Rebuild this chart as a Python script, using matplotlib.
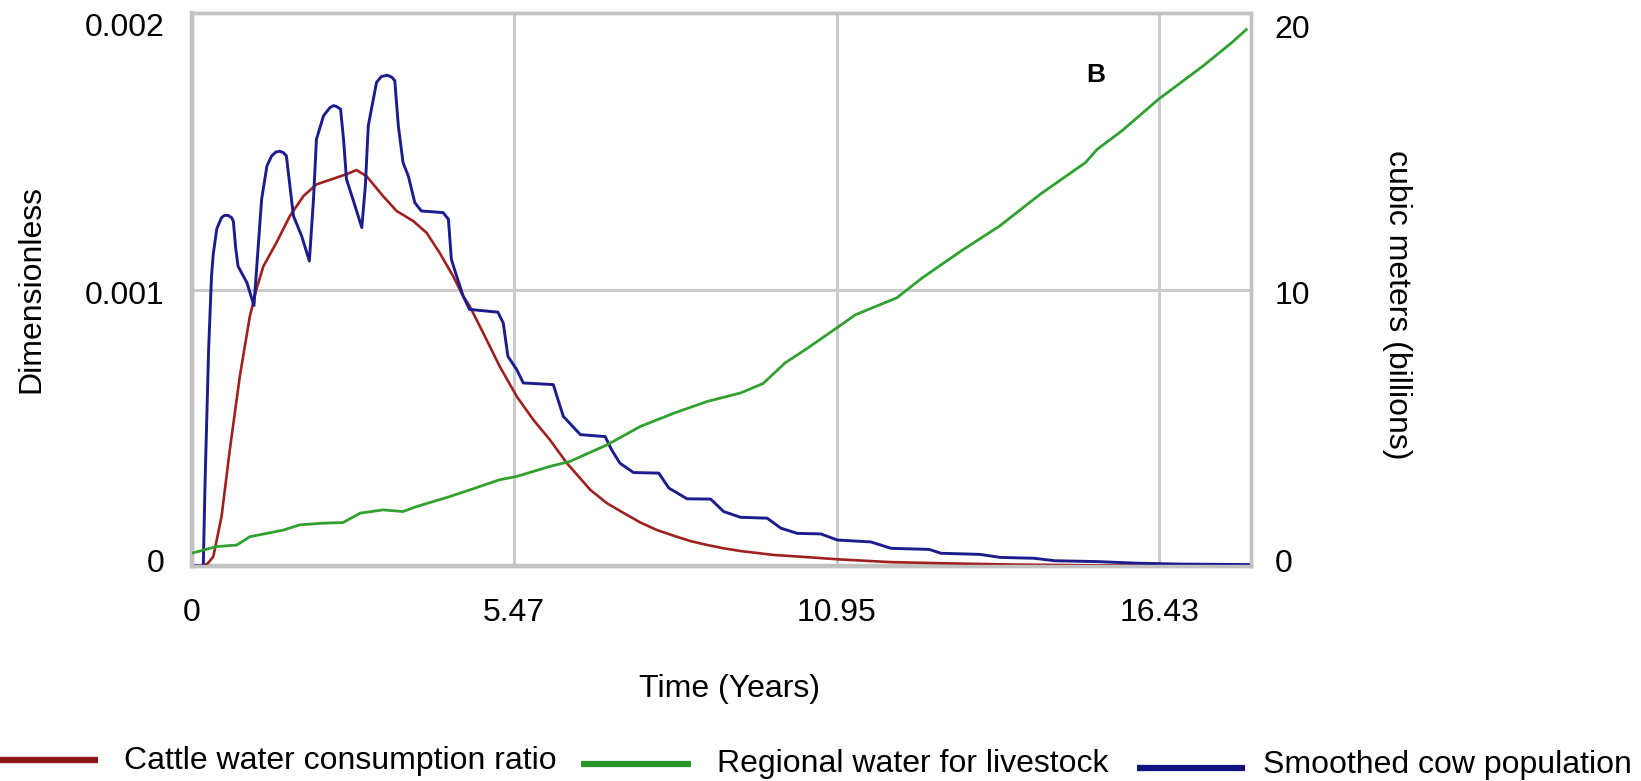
import matplotlib
matplotlib.use("Agg")
import matplotlib.pyplot as plt
from matplotlib.lines import Line2D
from matplotlib.transforms import ScaledTranslation

plt.rcParams['font.family'] = ['Liberation Sans', 'DejaVu Sans']

# ---------------- data ----------------
t_ratio = [0, 0.2, 0.28, 0.37, 0.51, 0.65, 0.82, 0.99, 1.1, 1.22, 1.44, 1.67, 1.90, 2.12,
           2.41, 2.63, 2.80, 2.97, 3.25, 3.48, 3.76, 3.99, 4.21, 4.44, 4.61, 4.72, 4.95,
           5.23, 5.52, 5.80, 6.08, 6.37, 6.77, 7.05, 7.34, 7.62, 7.90, 8.19, 8.47, 8.75,
           9.03, 9.32, 9.88, 10.45, 10.98, 11.87, 12.72, 14.0, 15.5, 17.98]
cattle_ratio = [0, 0, 0.010, 0.034, 0.179, 0.42, 0.686, 0.903, 1.0, 1.084, 1.169, 1.266,
                1.338, 1.38, 1.401, 1.417, 1.432, 1.41, 1.338, 1.284, 1.248, 1.205, 1.133,
                1.048, 0.976, 0.94, 0.843, 0.722, 0.613, 0.529, 0.457, 0.372, 0.275, 0.227,
                0.191, 0.157, 0.13, 0.109, 0.09, 0.076, 0.064, 0.054, 0.04, 0.032, 0.024,
                0.014, 0.01, 0.005, 0.002, 0.0]  # x 1e-3

t_cow = [0, 0.2, 0.23, 0.29, 0.34, 0.37, 0.43, 0.51, 0.56, 0.62, 0.68, 0.71, 0.75, 0.79,
         0.94, 1.06, 1.19, 1.28, 1.36, 1.43, 1.50, 1.56, 1.61, 1.73, 1.87, 2.0, 2.07, 2.12,
         2.24, 2.35, 2.41, 2.46, 2.53, 2.58, 2.63, 2.74, 2.89, 2.95, 3.0, 3.14, 3.22, 3.32,
         3.40, 3.45, 3.51, 3.59, 3.68, 3.79, 3.90, 4.27, 4.36, 4.41, 4.50, 4.61, 4.72, 5.20,
         5.29, 5.37, 5.52, 5.63, 6.14, 6.22, 6.31, 6.60, 7.02, 7.13, 7.27, 7.50, 7.93, 8.10,
         8.41, 8.81, 9.03, 9.32, 9.77, 10.0, 10.28, 10.68, 10.96, 11.53, 11.87, 12.52,
         12.72, 13.38, 13.73, 14.30, 14.65, 15.36, 16.06, 16.77, 17.98]
cow_pop = [0, 0, 0.30, 0.78, 1.05, 1.13, 1.22, 1.26, 1.268, 1.268, 1.26, 1.247, 1.15,
           1.084, 1.025, 0.942, 1.326, 1.447, 1.483, 1.497, 1.50, 1.495, 1.483, 1.266,
           1.193, 1.103, 1.326, 1.543, 1.628, 1.658, 1.665, 1.662, 1.652, 1.543, 1.399,
           1.326, 1.224, 1.374, 1.592, 1.749, 1.770, 1.775, 1.768, 1.755, 1.592, 1.459,
           1.41, 1.314, 1.284, 1.278, 1.254, 1.109, 1.048, 0.976, 0.928, 0.918, 0.879,
           0.758, 0.71, 0.662, 0.656, 0.601, 0.541, 0.475, 0.468, 0.42, 0.372, 0.338,
           0.336, 0.282, 0.243, 0.242, 0.197, 0.176, 0.173, 0.137, 0.118, 0.116, 0.094,
           0.087, 0.064, 0.060, 0.046, 0.042, 0.031, 0.028, 0.019, 0.016, 0.010, 0.007,
           0.005]  # x 1e-3

t_water = [0, 0.42, 0.77, 0.99, 1.28, 1.56, 1.84, 2.24, 2.57, 2.86, 3.25, 3.59, 3.82, 4.38,
           4.72, 5.23, 5.52, 6.08, 6.42, 7.05, 7.62, 8.19, 8.75, 9.32, 9.70, 10.07, 10.42,
           10.95, 11.27, 11.97, 12.40, 13.10, 13.71, 14.40, 15.17, 15.37, 15.79, 16.41,
           17.17, 17.66, 17.9]
water_livestock = [0.46, 0.70, 0.76, 1.06, 1.18, 1.30, 1.49, 1.55, 1.57, 1.91, 2.03, 1.97,
                   2.15, 2.51, 2.75, 3.12, 3.24, 3.60, 3.78, 4.38, 5.05, 5.53, 5.95, 6.26,
                   6.60, 7.34, 7.83, 8.61, 9.09, 9.70, 10.42, 11.45, 12.29, 13.44, 14.59,
                   15.07, 15.74, 16.88, 18.09, 18.94, 19.40]

x_ticks = [0, 5.4757, 10.9514, 16.4271]
x_tick_labels = ["0", "5.47", "10.95", "16.43"]
y_left_ticks = [0, 0.001, 0.002]
y_left_labels = ["0", "0.001", "0.002"]
y_right_ticks = [0, 10, 20]
y_right_labels = ["0", "10", "20"]
series_names = ["Cattle water consumption ratio", "Regional water for livestock",
                "Smoothed cow population"]

# ---------------- figure ----------------
W, H = 1641, 781
fig = plt.figure(figsize=(W / 100, H / 100), dpi=100)
L, R, T, B = 191.5, 1251, 13, 566
ax = fig.add_axes([L / W, 1 - B / H, (R - L) / W, (B - T) / H])
ax2 = ax.twinx()

RED = "#a02020"
GREEN = "#30a030"
BLUE = "#1c1c8e"
FS = 23

ax.plot(t_ratio, [v * 1e-3 for v in cattle_ratio], color=RED, lw=1.9, zorder=3,
        solid_joinstyle='round')
ax.plot(t_cow, [v * 1e-3 for v in cow_pop], color=BLUE, lw=2.1, zorder=4,
        solid_joinstyle='round')
ax2.plot(t_water, water_livestock, color=GREEN, lw=2.0, zorder=3, solid_joinstyle='round')

ax.set_xlim(0, 17.98)
ax.set_ylim(0, 0.002)
ax2.set_ylim(0, 20)

ax.set_xticks(x_ticks)
ax.set_xticklabels(x_tick_labels, fontsize=FS)
ax.set_yticks(y_left_ticks)
ax.set_yticklabels(y_left_labels, fontsize=FS)
ax2.set_yticks(y_right_ticks)
ax2.set_yticklabels(y_right_labels, fontsize=FS)

ax.tick_params(axis='x', length=0, pad=23)
ax.tick_params(axis='y', length=0, pad=19.5)
ax2.tick_params(axis='y', length=0, pad=17)

# grid
grid_c = "#cccccc"
for xv in x_ticks[1:]:
    ax.axvline(xv, color=grid_c, lw=2.2, zorder=1)
ax.axhline(0.001, color=grid_c, lw=2.2, zorder=1)

for a in (ax, ax2):
    for s in a.spines.values():
        s.set_color("#c2c2c2")
        s.set_linewidth(2.4)
ax.spines['left'].set_linewidth(3.2)
ax.spines['bottom'].set_linewidth(3.2)

# nudge end tick labels as in the original
def shift(lbl, dy_px):
    lbl.set_transform(lbl.get_transform() + ScaledTranslation(0, dy_px / 100, fig.dpi_scale_trans))

yl = ax.get_yticklabels()
shift(yl[0], 5)
shift(yl[1], -3)
shift(yl[2], -11)
yr = ax2.get_yticklabels()
shift(yr[0], 5)
shift(yr[1], -3)
shift(yr[2], -13)

# axis titles
fig.text(31.4 / W, 1 - 289 / H, "Dimensionless", rotation=90, ha='center', va='center', fontsize=FS)
fig.text(1397 / W, 1 - 304.6 / H, "cubic meters (billions)", rotation=-90, ha='center',
         va='center', fontsize=FS)
fig.text(729.5 / W, 1 - 688.7 / H, "Time (Years)", ha='center', va='center', fontsize=FS)
fig.text(1096 / W, 1 - 75 / H, "B", ha='center', va='center', fontsize=19, fontweight='bold')

# legend
LEG_RED = "#8c1414"
LEG_GREEN = "#2a962a"
LEG_BLUE = "#12127f"
leg = [
    (0, 98, 760, 123.5, 769, LEG_RED, series_names[0]),
    (581, 691, 764, 717, 772, LEG_GREEN, series_names[1]),
    (1137, 1245, 767.5, 1263, 773, LEG_BLUE, series_names[2]),
]
for x0, x1, ly, tx, tb, c, name in leg:
    fig.add_artist(Line2D([x0 / W, x1 / W], [1 - ly / H, 1 - ly / H], color=c, lw=4.5,
                          transform=fig.transFigure, solid_capstyle='butt'))
    fig.text(tx / W, 1 - tb / H, name, ha='left', va='baseline', fontsize=FS)

fig.savefig("out.png", dpi=100)
